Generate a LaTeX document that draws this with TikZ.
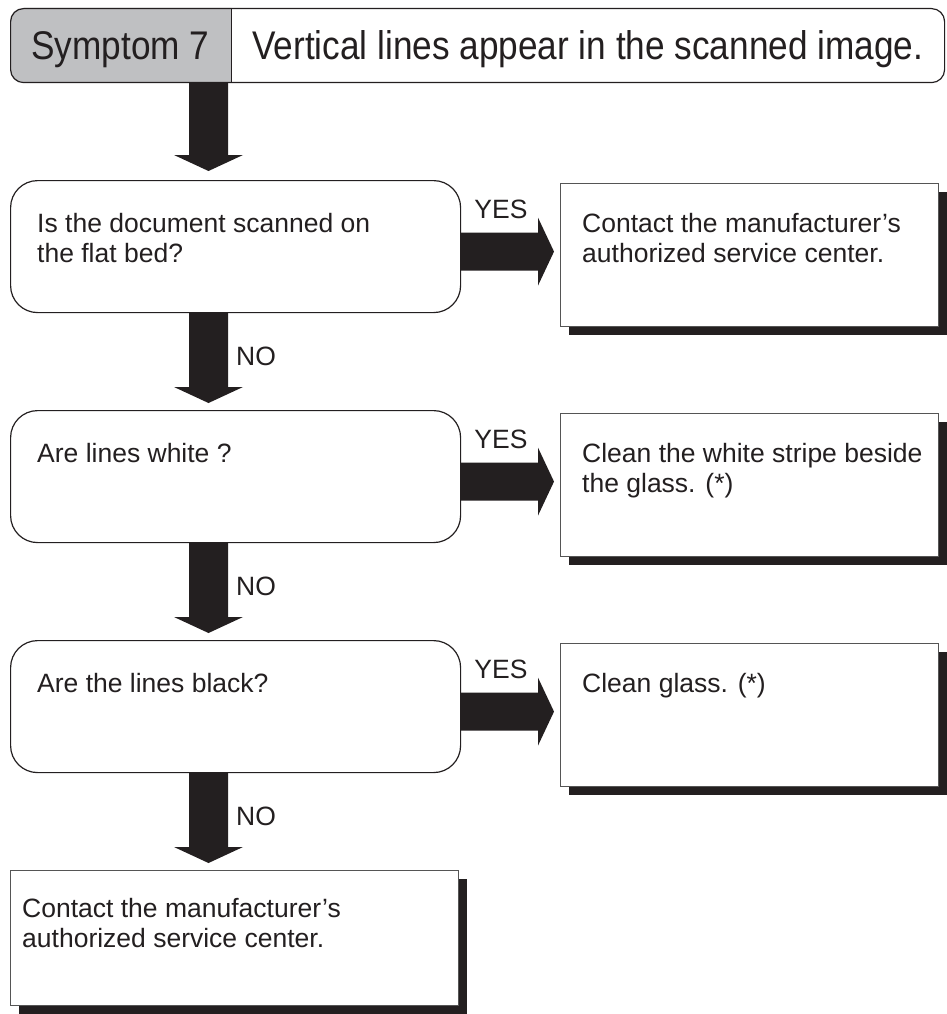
\documentclass[tikz,border=0pt]{standalone}
\usepackage{fontspec}
\setmainfont{Liberation Sans}
\newfontfamily\hdrfont[FakeStretch=0.88]{Liberation Sans}
\usetikzlibrary{calc,shadows}
\definecolor{ink}{HTML}{231F20}
\definecolor{hdrgray}{HTML}{BFC0C2}
\definecolor{boxline}{HTML}{555555}
\newcommand{\twolines}[2]{\begin{tabular}[t]{@{}l@{}}#1\\#2\end{tabular}}
\newcommand{\downflow}[2]{\fill[ink] let \p1=(#1), \p2=(#2) in
  (\x1-19.5pt,\y1) -- (\x1+19.5pt,\y1) -- (\x1+19.5pt,\y2+16pt) -- (\x1+34.5pt,\y2+16pt)
  -- (\x1,\y2) -- (\x1-34.5pt,\y2+16pt) -- (\x1-19.5pt,\y2+16pt) -- cycle;}
\newcommand{\rightflow}[2]{\fill[ink] let \p1=(#1), \p2=(#2) in
  (\x1,\y1+19pt) -- (\x2-16pt,\y1+19pt) -- (\x2-16pt,\y1+34pt) -- (\x2,\y1)
  -- (\x2-16pt,\y1-34pt) -- (\x2-16pt,\y1-19pt) -- (\x1,\y1-19pt) -- cycle;}
\begin{document}
\begin{tikzpicture}[x=1pt,y=-1pt,
  txt/.style={font=\fontsize{26.5}{30}\selectfont, inner sep=0pt, text=ink},
  qbox/.style={draw=ink, line width=1.2pt, rounded corners=27pt, minimum width=450pt,
     minimum height=132pt, inner sep=0pt, anchor=north west},
  abox/.style={draw=boxline, line width=1.2pt, fill=white, minimum width=378pt,
     minimum height=143pt, inner sep=0pt, anchor=north west,
     drop shadow={shadow xshift=8pt, shadow yshift=-8pt, fill=ink, opacity=1}},
  lastbox/.style={abox, minimum width=448pt, minimum height=135pt}]
\useasboundingbox (0,0) rectangle (946,1014);
% header
\begin{scope}
  \clip (10,8) rectangle (231,82);
  \fill[hdrgray, rounded corners=13pt] (10,8) rectangle (300,82);
\end{scope}
\node[draw=ink, line width=1.2pt, rounded corners=13pt, minimum width=934pt,
  minimum height=74pt, inner sep=0pt, anchor=north west] (hdr) at (10,8) {};
\draw[ink, line width=0.8pt] (hdr.north west) ++(221,0) coordinate (dtop) -- (dtop |- hdr.south);
\node[txt, font=\hdrfont\fontsize{40}{48}\selectfont, anchor=base] (sym) at (120.5,60) {Symptom 7};
\node[txt, font=\hdrfont\fontsize{40}{48}\selectfont, anchor=base west] (title) at (252,60)
  {Vertical lines appear in the scanned image.};
\coordinate (ax) at (208.5,0);
% questions
\node[qbox] (q1) at (10,180) {};
\node[qbox] (q2) at (10,410) {};
\node[qbox] (q3) at (10,640) {};
\node[txt, anchor=base west] (q1t) at (37,232) {\twolines{Is the document scanned on}{the flat bed?}};
\node[txt, anchor=base west] (q2t) at (37,462) {Are lines white ?};
\node[txt, anchor=base west] (q3t) at (37,692) {Are the lines black?};
% actions
\node[abox] (a1) at (560,183) {};
\node[abox] (a2) at (560,413) {};
\node[abox] (a3) at (560,643) {};
\node[lastbox] (a4) at (10,870) {};
\node[txt, anchor=base west] (a1t) at (582,232) {\twolines{Contact the manufacturer’s}{authorized service center.}};
\node[txt, anchor=base west] (a2t) at (582,462) {\twolines{Clean the white stripe beside}{the glass. (*)}};
\node[txt, anchor=base west] (a3t) at (582,692) {Clean glass. (*)};
\node[txt, anchor=base west] (a4t) at (22,917) {\twolines{Contact the manufacturer’s}{authorized service center.}};
% down arrows
\downflow{hdr.south -| ax}{[yshift=9pt]q1.north -| ax}
\downflow{q1.south -| ax}{[yshift=7pt]q2.north -| ax}
\downflow{q2.south -| ax}{[yshift=7pt]q3.north -| ax}
\downflow{q3.south -| ax}{[yshift=7pt]a4.north -| ax}
\node[txt, anchor=base west] (no1) at (236,365) {NO};
\node[txt, anchor=base west] (no2) at (236,595) {NO};
\node[txt, anchor=base west] (no3) at (236,825) {NO};
% right arrows
\foreach \q/\a/\k in {q1/a1/1, q2/a2/2, q3/a3/3}{
  \coordinate (ys\k) at ([yshift=-5pt]\q.east);
  \coordinate (ye\k) at ([xshift=-6pt]ys\k -| \a.west);
  \rightflow{ys\k}{ye\k}
  \node[txt, anchor=base west] (yes\k) at ([xshift=13pt,yshift=33pt]ys\k) {YES};
}
\end{tikzpicture}
\end{document}
